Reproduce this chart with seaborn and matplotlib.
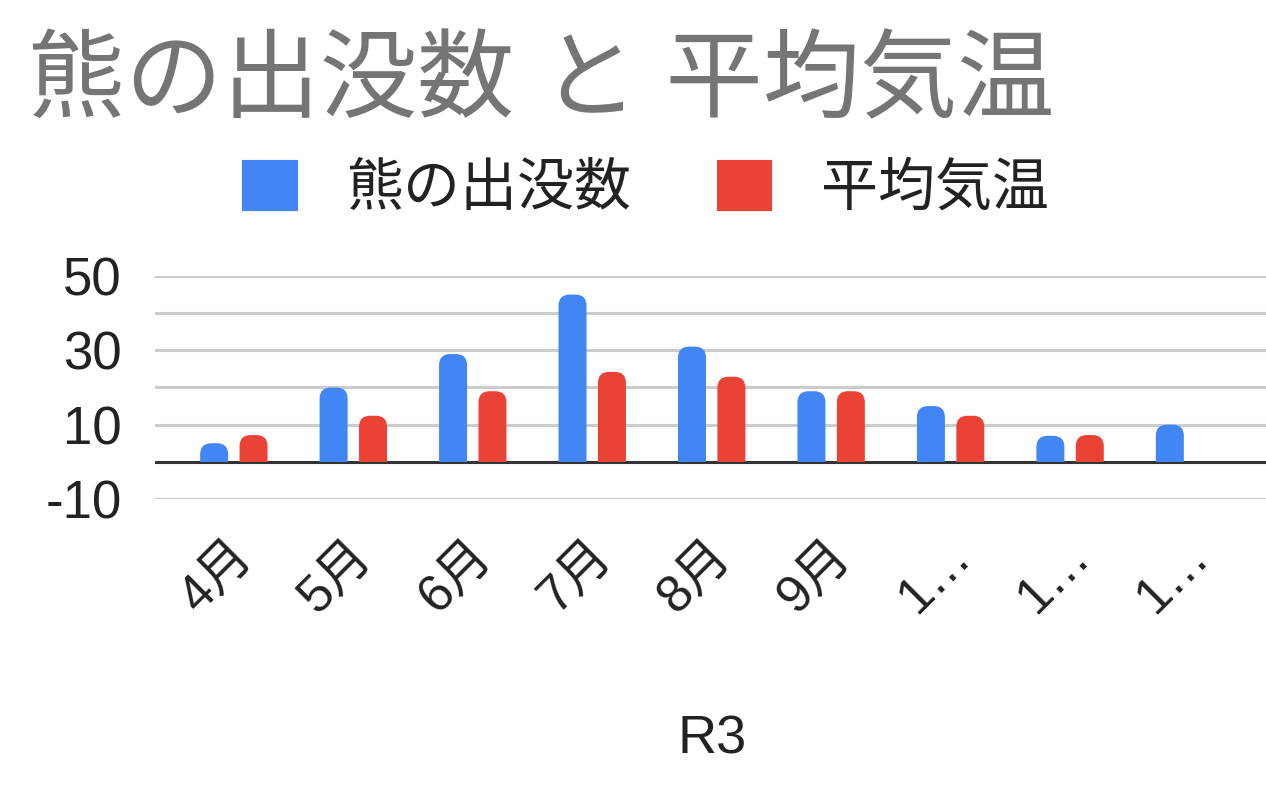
"""熊の出没数 と 平均気温 (R3) の棒グラフ"""

import matplotlib
matplotlib.use("Agg")
import matplotlib.pyplot as plt
import matplotlib.transforms as mtransforms
from matplotlib.patches import FancyBboxPatch, Patch, Rectangle
import seaborn as sns
import pandas as pd
import numpy as np

# Datos
meses = ["4月", "5月", "6月", "7月", "8月", "9月", "10月", "11月", "12月"]
etiquetas_x = ["4月", "5月", "6月", "7月", "8月", "9月", "1…", "1…", "1…"]
kuma = [5, 20, 29, 45, 31, 19, 15, 7, 10]
kion = [7.2, 12.4, 19, 24.2, 22.9, 19, 12.4, 7.2, np.nan]
series = ["熊の出没数", "平均気温"]
colores = ["#4285F4", "#EA4335"]
yticks = [-10, 0, 10, 20, 30, 40, 50]
ytick_labels = ["-10", "", "10", "", "30", "", "50"]

df = pd.DataFrame({
    "mes": meses * 2,
    "valor": kuma + kion,
    "serie": [series[0]] * len(meses) + [series[1]] * len(meses),
})

sns.set_theme(style="white")
plt.rcParams["font.family"] = ["Liberation Sans", "Noto Sans CJK JP", "DejaVu Sans"]

fig = plt.figure(figsize=(12.66, 7.91), dpi=100)
ax = fig.add_axes([155 / 1266, 1 - 499 / 791, 1 - 155 / 1266, (499 - 276) / 791])

sns.barplot(data=df, x="mes", y="valor", hue="serie", order=meses,
            hue_order=series, palette=colores, width=0.66, gap=0.29,
            saturation=1, legend=False, ax=ax, zorder=3)

# esquinas redondeadas arriba
px_x = 1 / 119.5
px_y = 1 / 3.72
r = 11 * px_x
clip = Rectangle((-5, 0), 20, 200, transform=ax.transData)
for p in list(ax.patches):
    x0, y0 = p.get_x(), p.get_y()
    w, h = p.get_width(), p.get_height()
    if np.isnan(h) or h <= 0:
        p.remove()
        continue
    fb = FancyBboxPatch((x0, y0 - 15 * px_y), w, h + 15 * px_y,
                        boxstyle=f"round,pad=0,rounding_size={r}",
                        mutation_aspect=px_y / px_x,
                        facecolor=p.get_facecolor(), edgecolor="none",
                        zorder=3)
    p.remove()
    ax.add_patch(fb)
    fb.set_clip_path(clip)

ax.set_ylim(-10, 50)
ax.set_xlim(-0.66, 8.64)
ax.set_yticks(yticks)
ax.set_yticklabels(ytick_labels)
ax.grid(axis="y", color="#cccccc", linewidth=2.2, zorder=0)
ax.grid(axis="x", visible=False)
ax.axhline(0, color="#333333", linewidth=2.2, zorder=2)
for s in ax.spines.values():
    s.set_visible(False)

ax.tick_params(axis="y", length=0, pad=24, labelsize=38, labelcolor="#222222")
ax.tick_params(axis="x", length=0, pad=36, labelsize=37, labelcolor="#222222")
ax.set_xticks(range(len(meses)))
ax.set_xticklabels(etiquetas_x, rotation=45, ha="right", va="center",
                   rotation_mode="anchor")
offset = mtransforms.ScaledTranslation(12 / 100, 0, fig.dpi_scale_trans)
for lab in ax.get_xticklabels():
    lab.set_transform(lab.get_transform() + offset)
ax.set_xlabel("")
ax.set_ylabel("")

# Titulo
fig.text(28 / 1266, 1 - 85 / 791, "熊の出没数 と 平均気温", fontsize=70,
         color="#757575", va="center", ha="left")

# Leyenda (cuadrados con esquinas redondeadas)
handles = [Patch(facecolor=c, edgecolor=c, linewidth=8, joinstyle="round")
           for c in colores]
fig.legend(handles, series, loc="center", ncol=2,
           bbox_to_anchor=(648 / 1266, 1 - 190 / 791), frameon=False,
           fontsize=41, handlelength=0.78, handleheight=0.72,
           handletextpad=0.95, columnspacing=1.6, labelcolor="#222222")

# Etiqueta eje x
fig.text(712 / 1266, 1 - 740 / 791, "R3", fontsize=39, color="#222222",
         ha="center", va="center")

fig.savefig("out.png", dpi=100)
